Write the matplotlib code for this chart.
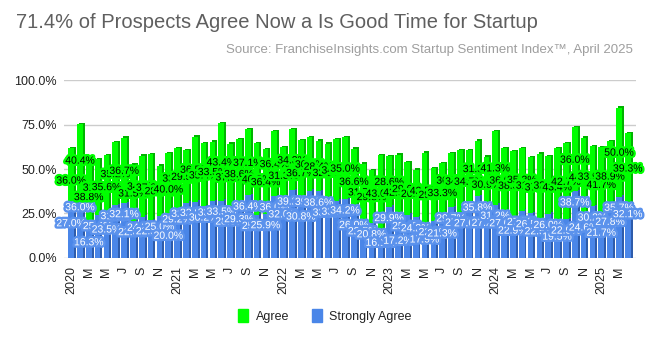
import matplotlib
matplotlib.use("Agg")
import matplotlib.pyplot as plt
import matplotlib.patheffects as pe
from matplotlib.patches import Patch
import numpy as np

plt.rcParams["font.family"] = ["Liberation Sans", "DejaVu Sans"]

# Monthly survey results, Jan 2020 .. Apr 2025 (percent of prospects)
strongly_agree = [
    27.0, 36.0, 16.3, 25.4, 23.5, 31.0, 32.1, 22.0, 24.5, 22.5, 25.0, 20.0,
    29.2, 32.3, 32.8, 30.2, 33.0, 33.5, 28.0, 29.3, 36.4, 25.5, 25.9, 36.0,
    32.0, 39.2, 30.8, 39.0, 38.6, 33.0, 33.5, 34.2, 26.0, 22.5, 20.8, 16.1,
    29.9, 17.2, 25.4, 24.2, 17.9, 22.0, 21.3, 29.7, 27.3, 27.0, 35.8, 27.2,
    31.2, 27.0, 22.9, 27.7, 26.5, 22.5, 26.0, 19.5, 22.9, 38.7, 24.6, 30.2,
    21.7, 27.8, 35.7, 32.1,
]
agree = [
    36.0, 40.4, 38.8, 31.2, 35.6, 35.2, 36.7, 31.5, 34.2, 37.0, 28.0, 40.0,
    33.8, 29.5, 36.5, 35.4, 33.5, 43.4, 37.5, 38.6, 37.1, 40.2, 36.4, 36.4,
    31.3, 34.3, 36.7, 30.0, 28.4, 32.5, 34.3, 35.0, 36.6, 31.7, 29.8, 43.0,
    28.6, 42.0, 29.6, 26.6, 42.5, 29.8, 33.3, 30.5, 34.3, 34.7, 31.3, 30.9,
    41.3, 36.0, 38.3, 35.3, 31.3, 37.3, 32.3, 43.4, 42.7, 36.0, 44.1, 33.9,
    41.7, 38.9, 50.0, 39.3,
]
# one label every second month
tick_labels = [
    "2020", "M", "M", "J", "S", "N",
    "2021", "M", "M", "J", "S", "N",
    "2022", "M", "M", "J", "S", "N",
    "2023", "M", "M", "J", "S", "N",
    "2024", "M", "M", "J", "S", "N",
    "2025", "M",
]

green = "#00ff00"
green_side = "#00b400"
blue = "#4a86e8"
blue_side = "#2e5cab"

x = np.arange(len(agree))
sa = np.array(strongly_agree)
ag = np.array(agree)

fig = plt.figure(figsize=(6.5, 3.38), dpi=100)
ax = fig.add_axes([0.0985, 0.2367, 0.8795, 0.5266])

# fake 3D look: front face sits a little low, darker depth face behind it
w = 0.64
d = 0.22
front = 1.2
back = 0.4
ax.bar(x + d, sa, width=w, bottom=-back, color=blue_side, zorder=2)
ax.bar(x + d, ag, width=w, bottom=sa - back, color=green_side, zorder=2)
ax.bar(x, sa, width=w, bottom=-front, color=blue, zorder=3)
ax.bar(x, ag, width=w, bottom=sa - front, color=green, zorder=3)

# data labels
for i in range(len(x)):
    ax.text(x[i], sa[i] - 7.5, f"{sa[i]:.1f}%", ha="center", va="center",
            fontsize=7.5, color="white", zorder=5,
            path_effects=[pe.withStroke(linewidth=3.5, foreground="#5b92ec")])
for i in range(len(x)):
    ax.text(x[i], sa[i] + ag[i] / 2 - 1.5, f"{ag[i]:.1f}%", ha="center",
            va="center", fontsize=7.5, color="black", zorder=6,
            path_effects=[pe.withStroke(linewidth=3.5, foreground=green)])

ax.set_ylim(0, 100)
ax.set_xlim(-0.8, len(x) - 0.1)
ax.set_yticks([0, 25, 50, 75, 100])
ax.set_yticklabels(["0.0%", "25.0%", "50.0%", "75.0%", "100.0%"])
ax.set_xticks(x[::2])
ax.set_xticklabels(tick_labels, rotation=90)
ax.tick_params(axis="both", length=0, labelsize=9, colors="#222222")
ax.tick_params(axis="y", pad=5)
ax.tick_params(axis="x", pad=6)
ax.grid(axis="y", color="#cccccc", linewidth=1, zorder=0)
ax.set_axisbelow(True)
for s in ax.spines.values():
    s.set_visible(False)

fig.text(16 / 650, 1 - 22 / 338, "71.4% of Prospects Agree Now a Is Good Time for Startup",
         fontsize=14.5, color="#5f5f5f", va="center", ha="left")
fig.text(633 / 650, 1 - 50 / 338,
         "Source: FranchiseInsights.com Startup Sentiment Index\u2122, April 2025",
         fontsize=9.5, color="#9e9e9e", va="center", ha="right")

handles = [Patch(color=green, label="Agree"), Patch(color=blue, label="Strongly Agree")]
fig.legend(handles=handles, loc="center", bbox_to_anchor=(0.5, 1 - 316 / 338), ncol=2,
           frameon=False, fontsize=9, handlelength=0.8, handleheight=1.2,
           handletextpad=0.6, columnspacing=1.8, labelcolor="#222222")

fig.savefig("out.png", dpi=100)
